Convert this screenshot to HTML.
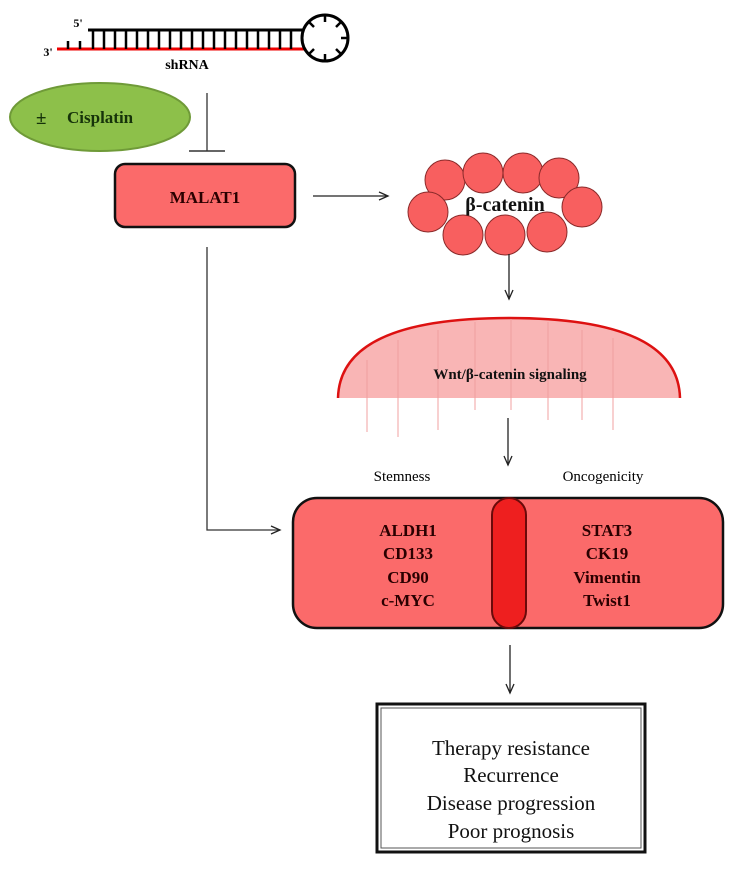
<!DOCTYPE html>
<html><head><meta charset="utf-8"><style>
body{margin:0;background:#fff;}
svg text{font-family:"Liberation Serif",serif;}
</style></head><body>
<svg width="738" height="864" viewBox="0 0 738 864" xmlns="http://www.w3.org/2000/svg">
<defs>
<marker id="a" markerWidth="12" markerHeight="12" refX="10" refY="5" orient="auto" markerUnits="userSpaceOnUse">
<path d="M1,1 L10,5 L1,9" fill="none" stroke="#222" stroke-width="1.3"/>
</marker>
</defs>
<!-- shRNA -->
<line x1="88" y1="30" x2="304" y2="30" stroke="#000" stroke-width="3"/>
<line x1="57" y1="49" x2="304" y2="49" stroke="#e00" stroke-width="3"/>
<g stroke="#000" stroke-width="2.5">
<line x1="68" y1="41" x2="68" y2="49"/><line x1="80" y1="41" x2="80" y2="49"/>
<line x1="93" y1="30" x2="93" y2="49"/><line x1="104" y1="30" x2="104" y2="49"/><line x1="115" y1="30" x2="115" y2="49"/><line x1="126" y1="30" x2="126" y2="49"/><line x1="137" y1="30" x2="137" y2="49"/><line x1="148" y1="30" x2="148" y2="49"/><line x1="159" y1="30" x2="159" y2="49"/><line x1="170" y1="30" x2="170" y2="49"/><line x1="181" y1="30" x2="181" y2="49"/><line x1="192" y1="30" x2="192" y2="49"/><line x1="203" y1="30" x2="203" y2="49"/><line x1="214" y1="30" x2="214" y2="49"/><line x1="225" y1="30" x2="225" y2="49"/><line x1="236" y1="30" x2="236" y2="49"/><line x1="247" y1="30" x2="247" y2="49"/><line x1="258" y1="30" x2="258" y2="49"/><line x1="269" y1="30" x2="269" y2="49"/><line x1="280" y1="30" x2="280" y2="49"/><line x1="291" y1="30" x2="291" y2="49"/>
</g>
<circle cx="325" cy="38" r="23" fill="none" stroke="#000" stroke-width="3"/>
<g stroke="#000" stroke-width="2.5">
<line x1="325" y1="15" x2="325" y2="22"/><line x1="341" y1="22" x2="336" y2="27"/><line x1="348" y1="38" x2="341" y2="38"/><line x1="341" y1="54" x2="336" y2="49"/><line x1="325" y1="61" x2="325" y2="54"/><line x1="309" y1="54" x2="314" y2="49"/><line x1="309" y1="22" x2="314" y2="27"/>
</g>
<text x="78" y="27" font-size="12" font-weight="bold" text-anchor="middle">5'</text>
<text x="48" y="56" font-size="12" font-weight="bold" text-anchor="middle">3'</text>
<text x="187" y="69" font-size="14" font-weight="bold" text-anchor="middle">shRNA</text>
<!-- Cisplatin -->
<ellipse cx="100" cy="117" rx="90" ry="34" fill="#8dc04a" stroke="#6f9a38" stroke-width="2"/>
<text x="36" y="124" font-size="19" font-weight="bold" fill="#16330a">±</text>
<text x="67" y="123" font-size="17" font-weight="bold" fill="#16330a">Cisplatin</text>
<!-- inhibition -->
<line x1="207" y1="93" x2="207" y2="151" stroke="#333" stroke-width="1.3"/>
<line x1="189" y1="151" x2="225" y2="151" stroke="#333" stroke-width="1.5"/>
<!-- MALAT1 -->
<rect x="115" y="164" width="180" height="63" rx="10" fill="#fb6a6a" stroke="#111" stroke-width="2.5"/>
<text x="205" y="203" font-size="17" font-weight="bold" text-anchor="middle" fill="#2a0000">MALAT1</text>
<line x1="313" y1="196" x2="388" y2="196" stroke="#222" stroke-width="1.3" marker-end="url(#a)"/>
<!-- beta-catenin -->
<g fill="#f85f5f" stroke="#8a2a2a" stroke-width="1">
<circle cx="445" cy="180" r="20"/><circle cx="483" cy="173" r="20"/><circle cx="523" cy="173" r="20"/><circle cx="559" cy="178" r="20"/>
<circle cx="428" cy="212" r="20"/><circle cx="582" cy="207" r="20"/>
<circle cx="463" cy="235" r="20"/><circle cx="505" cy="235" r="20"/><circle cx="547" cy="232" r="20"/>
</g>
<text x="505" y="211" font-size="20" font-weight="bold" text-anchor="middle" fill="#111">β-catenin</text>
<line x1="509" y1="254" x2="509" y2="299" stroke="#222" stroke-width="1.3" marker-end="url(#a)"/>
<!-- Wnt dome -->
<path d="M338,398 Q340,318 509,318 Q678,318 680,398 Z" fill="#f9b5b5"/>
<path d="M338,398 Q340,318 509,318 Q678,318 680,398" fill="none" stroke="#dd1111" stroke-width="2.5"/>
<g stroke="#f0a0a0" stroke-width="1">
<line x1="398" y1="340" x2="398" y2="437"/><line x1="438" y1="330" x2="438" y2="430"/><line x1="475" y1="322" x2="475" y2="410"/><line x1="511" y1="319" x2="511" y2="410"/><line x1="548" y1="322" x2="548" y2="420"/><line x1="582" y1="330" x2="582" y2="420"/><line x1="613" y1="338" x2="613" y2="430"/><line x1="367" y1="360" x2="367" y2="432"/>
</g>
<text x="510" y="379" font-size="15" font-weight="bold" text-anchor="middle" fill="#111">Wnt/β-catenin signaling</text>
<line x1="508" y1="418" x2="508" y2="465" stroke="#222" stroke-width="1.3" marker-end="url(#a)"/>
<!-- labels -->
<text x="402" y="481" font-size="15" text-anchor="middle">Stemness</text>
<text x="603" y="481" font-size="15" text-anchor="middle">Oncogenicity</text>
<!-- big box -->
<rect x="293" y="498" width="430" height="130" rx="24" fill="#fb6a6a" stroke="#111" stroke-width="2.5"/>
<rect x="492" y="498" width="34" height="130" rx="17" fill="#ee1f1f" stroke="#6a0a0a" stroke-width="2"/>
<g font-size="17" font-weight="bold" text-anchor="middle" fill="#2a0000">
<text x="408" y="536">ALDH1</text><text x="408" y="559">CD133</text><text x="408" y="583">CD90</text><text x="408" y="606">c-MYC</text>
<text x="607" y="536">STAT3</text><text x="607" y="559">CK19</text><text x="607" y="583">Vimentin</text><text x="607" y="606">Twist1</text>
</g>
<!-- MALAT1 to box -->
<polyline points="207,247 207,530 280,530" fill="none" stroke="#333" stroke-width="1.3" marker-end="url(#a)"/>
<line x1="510" y1="645" x2="510" y2="693" stroke="#222" stroke-width="1.3" marker-end="url(#a)"/>
<!-- bottom box -->
<rect x="377" y="704" width="268" height="148" fill="#fff" stroke="#111" stroke-width="3"/>
<rect x="381" y="708" width="260" height="140" fill="none" stroke="#555" stroke-width="1"/>
<g font-size="21" text-anchor="middle" fill="#111">
<text x="511" y="755">Therapy resistance</text><text x="511" y="782">Recurrence</text><text x="511" y="810">Disease progression</text><text x="511" y="838">Poor prognosis</text>
</g>
</svg>
</body></html>
